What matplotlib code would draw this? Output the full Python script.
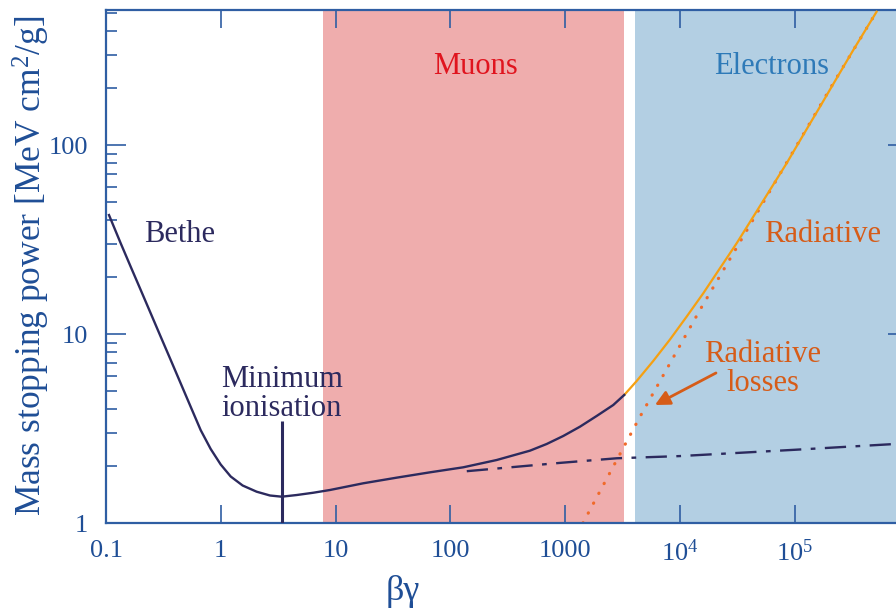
"""
Mass stopping power vs beta*gamma, with muon and electron regions.

"""

import matplotlib
matplotlib.use("Agg")
import matplotlib.pyplot as plt

plt.rcParams["font.family"] = ["Liberation Serif", "DejaVu Serif"]
plt.rcParams["mathtext.fontset"] = "custom"
plt.rcParams["mathtext.rm"] = "Liberation Serif"
plt.rcParams["mathtext.it"] = "Liberation Serif:italic"

# total stopping power (navy part)
bethe_bg = [0.1062, 0.1343, 0.1641, 0.2006, 0.2451, 0.2995, 0.3661, 0.4474,
            0.5467, 0.6682, 0.8166, 0.998, 1.22, 1.55, 2.054, 2.683, 3.393,
            4.58, 6.40, 8.94, 17.4, 34.0, 66.4, 129.5, 253, 493, 690, 962,
            1346, 1881, 2624, 3273]
bethe_sp = [42.6, 30.2, 22.7, 17.1, 12.87, 9.68, 7.29, 5.48,
            4.12, 3.10, 2.464, 2.04, 1.762, 1.579, 1.464, 1.398, 1.378,
            1.406, 1.446, 1.495, 1.622, 1.737, 1.854, 1.971, 2.154, 2.413,
            2.618, 2.886, 3.233, 3.683, 4.21, 4.76]

# total with radiative losses (orange part)
rad_bg = [3273, 4198, 5853, 8185, 11430, 15960, 22290, 31190, 43550, 60810,
          84970, 118600, 166000, 231700, 323600, 516400]
rad_sp = [4.76, 5.64, 7.20, 9.35, 12.35, 16.42, 22.26, 30.2, 41.75, 57.8,
          80.0, 113, 159.5, 225.4, 318, 507]

# radiative losses alone (dotted)
loss_bg = [1429, 4487, 14930, 56900, 216500, 516400]
loss_sp = [1.0, 3.65, 13.4, 53.3, 212, 507]

# ionisation with density effect (dash-dot)
ion_bg = [139, 902, 2810, 10000, 100000, 760000]
ion_sp = [1.88, 2.08, 2.20, 2.26, 2.44, 2.62]

x_range = (0.1, 9.7e5)
y_range = (1, 518)
muon_range = (7.77, 3250)
electron_range = (4055, 9.7e5)
min_ion = (3.39, 3.46)

xticks = [0.1, 1, 10, 100, 1000, 1e4, 1e5]
xlabels = ["0.1", "1", "10", "100", "1000", "$10^4$", "$10^5$"]
yticks = [1, 10, 100]
ylabels = ["1", "10", "100"]

navy = "#2c2a5e"
blue = "#1f4e96"
spine = "#2f5ea3"
orange_txt = "#d65c18"


def main():
    fig = plt.figure(figsize=(8.96, 6.10), dpi=100)
    ax = fig.add_axes([106 / 896, 87 / 610, 802 / 896, 513 / 610])
    ax.set_xscale("log")
    ax.set_yscale("log")
    ax.set_xlim(*x_range)
    ax.set_ylim(*y_range)

    ax.axvspan(*muon_range, color="#efadad", lw=0, zorder=0)
    ax.axvspan(*electron_range, color="#b3cfe3", lw=0, zorder=0)

    ax.plot(ion_bg, ion_sp, color=navy, lw=1.7, dashes=(9, 4, 2, 4), zorder=2)
    ax.plot(loss_bg, loss_sp, color="#f06a2a", lw=2.3, dashes=(0.1, 3.4),
            dash_capstyle="round", zorder=2)
    ax.plot(rad_bg, rad_sp, color="#f5a012", lw=1.6, zorder=3)
    ax.plot(bethe_bg, bethe_sp, color=navy, lw=1.7, zorder=3)
    ax.vlines(min_ion[0], 1, min_ion[1], color=navy, lw=2.2, zorder=3)

    ft = fig.transFigure
    kw = dict(transform=ft, fontsize=22, ha="center", va="center")
    ax.text(475 / 896, 1 - 66 / 610, "Muons", color="#e0141e", **kw)
    ax.text(772 / 896, 1 - 66 / 610, "Electrons", color="#2e7ab8", **kw)
    ax.text(180 / 896, 1 - 235 / 610, "Bethe", color=navy, **kw)
    ax.text(282 / 896, 1 - 394 / 610, "Minimum\nionisation", color=navy,
            linespacing=1.0, **kw)
    ax.text(823 / 896, 1 - 235 / 610, "Radiative", color=orange_txt, **kw)
    ax.text(763 / 896, 1 - 369 / 610, "Radiative\nlosses", color=orange_txt,
            linespacing=1.0, **kw)
    ax.annotate("", xy=(6055, 4.21), xytext=(20600, 6.22),
                arrowprops=dict(arrowstyle="-|>", color=orange_txt, lw=2.0,
                                mutation_scale=22, shrinkA=0, shrinkB=0))

    ax.set_xticks(xticks)
    ax.set_xticklabels(xlabels)
    ax.xaxis.set_minor_locator(matplotlib.ticker.NullLocator())
    ax.set_yticks(yticks)
    ax.set_yticklabels(ylabels)
    ax.yaxis.set_minor_locator(matplotlib.ticker.LogLocator(subs=range(2, 10)))
    ax.yaxis.set_minor_formatter(matplotlib.ticker.NullFormatter())

    ax.tick_params(axis="both", which="major", direction="in", top=True,
                   right=True, color=spine, labelcolor=blue, labelsize=19,
                   width=1.2)
    ax.tick_params(axis="x", which="major", length=13, pad=12)
    ax.tick_params(axis="y", which="major", length=14.5, pad=13)
    ax.tick_params(axis="y", which="minor", direction="in", right=True,
                   length=8, width=1.2, color=spine)
    for s in ax.spines.values():
        s.set_color(spine)
        s.set_linewidth(1.6)

    ax.set_xlabel("βγ", color=blue, fontsize=26)
    ax.xaxis.set_label_coords((403 - 106) / 802, -(592 - 523) / 513)
    ax.xaxis.label.set_va("center")
    ax.set_ylabel("Mass stopping power [MeV cm$^2$/g]", color=blue,
                  fontsize=25.5)
    ax.yaxis.set_label_coords(-(106 - 31) / 802, (523 - 266) / 513)
    ax.yaxis.label.set_va("center")

    fig.savefig("out.png", dpi=100)


if __name__ == "__main__":
    main()
